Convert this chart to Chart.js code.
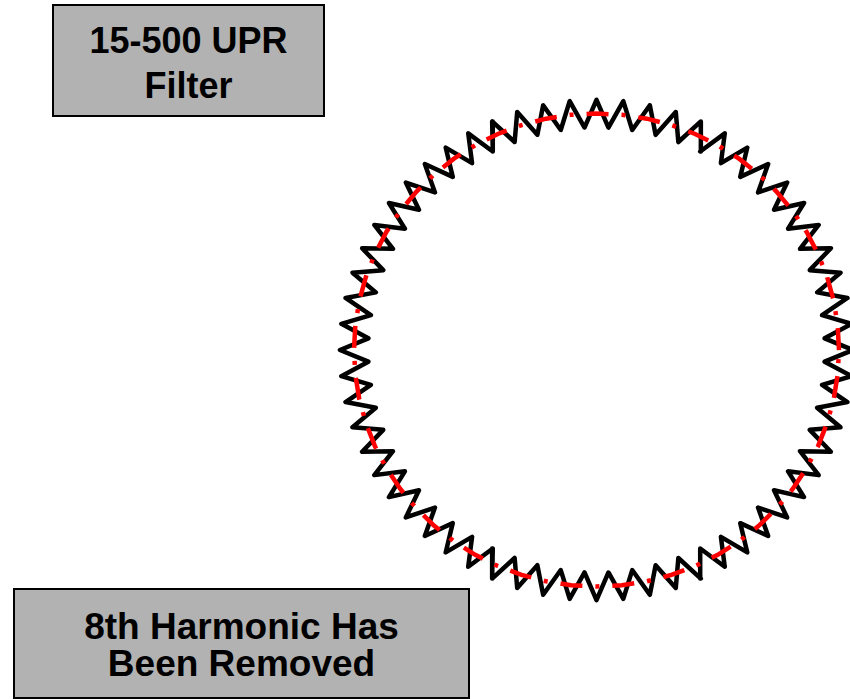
<!DOCTYPE html>
<html lang="en">
<head>
  <meta charset="UTF-8" />
  <title>15-500 UPR Filter - Roundness Profile</title>
  <script src="https://cdn.jsdelivr.net/npm/chart.js"></script>
  <style>
    body {
      margin: 0;
      background: #ffffff;
      width: 850px;
      height: 699px;
      overflow: hidden;
      position: relative;
      font-family: 'Liberation Sans', Arial, Helvetica, sans-serif;
    }
    #profileChart {
      position: absolute;
      left: 0;
      top: 0;
    }
    .label-box {
      position: absolute;
      box-sizing: border-box;
      background: #b2b2b2;
      border: 2px solid #000;
      color: #000;
      font-weight: 700;
      text-align: center;
    }
    #filterBox {
      left: 52px;
      top: 4px;
      width: 273px;
      height: 113px;
      font-size: 36px;
      line-height: 45px;
      padding-top: 11.5px;
    }
    #harmonicBox {
      left: 13px;
      top: 588px;
      width: 457px;
      height: 111px;
      font-size: 37px;
      line-height: 37px;
      padding-top: 17.7px;
    }
  </style>
</head>
<body>

  <canvas id="profileChart" width="850" height="699"></canvas>

  <div id="filterBox" class="label-box">15-500 UPR<br />Filter</div>
  <div id="harmonicBox" class="label-box">8th Harmonic Has<br />Been Removed</div>

  <script>
    // measured profile: 120 vertices, 3 degrees apart, starting at 0 deg (right), counter-clockwise
    const measuredProfile = [
      105.8, 94.2, 105.8, 94.2, 105.8, 94.2, 105.8, 94.2, 105.8, 94.2,
      105.8, 94.2, 105.8, 94.2, 105.8, 94.2, 105.8, 94.2, 105.8, 94.2,
      105.8, 94.2, 105.8, 94.2, 105.8, 94.2, 105.8, 94.2, 105.8, 94.2,
      105.8, 94.2, 105.8, 94.2, 105.8, 94.2, 105.8, 94.2, 105.8, 94.2,
      105.8, 94.2, 105.8, 94.2, 105.8, 94.2, 105.8, 94.2, 105.8, 94.2,
      105.8, 94.2, 105.8, 94.2, 105.8, 94.2, 105.8, 94.2, 105.8, 94.2,
      105.8, 94.2, 105.8, 94.2, 105.8, 94.2, 105.8, 94.2, 105.8, 94.2,
      105.8, 94.2, 105.8, 94.2, 105.8, 94.2, 105.8, 94.2, 105.8, 94.2,
      105.8, 94.2, 105.8, 94.2, 105.8, 94.2, 105.8, 94.2, 105.8, 94.2,
      105.8, 94.2, 105.8, 94.2, 105.8, 94.2, 105.8, 94.2, 105.8, 94.2,
      105.8, 94.2, 105.8, 94.2, 105.8, 94.2, 105.8, 94.2, 105.8, 94.2,
      105.8, 94.2, 105.8, 94.2, 105.8, 94.2, 105.8, 94.2, 105.8, 94.2
    ];

    // filtered profile (8th harmonic removed): 60 points, 6 degrees apart
    const filteredProfile = [
      100, 100, 100, 100, 100, 100, 100, 100, 100, 100,
      100, 100, 100, 100, 100, 100, 100, 100, 100, 100,
      100, 100, 100, 100, 100, 100, 100, 100, 100, 100,
      100, 100, 100, 100, 100, 100, 100, 100, 100, 100,
      100, 100, 100, 100, 100, 100, 100, 100, 100, 100,
      100, 100, 100, 100, 100, 100, 100, 100, 100, 100
    ];

    // polar -> cartesian, closing the loop
    function toPoints(radii) {
      const step = 2 * Math.PI / radii.length;
      const pts = radii.map((r, i) => ({ x: r * Math.cos(i * step), y: r * Math.sin(i * step) }));
      pts.push(pts[0]);
      return pts;
    }

    const ctx = document.getElementById('profileChart').getContext('2d');
    new Chart(ctx, {
      type: 'scatter',
      data: {
        datasets: [
          {
            label: 'Filtered',
            data: toPoints(filteredProfile),
            showLine: true,
            borderColor: '#ff0000',
            borderWidth: 4.5,
            borderDash: [22, 13, 4, 13],
            borderCapStyle: 'butt',
            pointRadius: 0,
            tension: 0,
            fill: false,
            order: 0
          },
          {
            label: 'Measured',
            data: toPoints(measuredProfile),
            showLine: true,
            borderColor: '#000000',
            borderWidth: 4.5,
            borderJoinStyle: 'round',
            pointRadius: 0,
            tension: 0,
            fill: false,
            order: 1
          }
        ]
      },
      options: {
        responsive: false,
        animation: false,
        layout: { padding: 0 },
        plugins: {
          legend: { display: false },
          tooltip: { enabled: false }
        },
        scales: {
          x: { type: 'linear', display: false, min: -245.98, max: 104.54 },
          y: { type: 'linear', display: false, min: -147.57, max: 148.0 }
        }
      }
    });
  </script>
</body>
</html>
